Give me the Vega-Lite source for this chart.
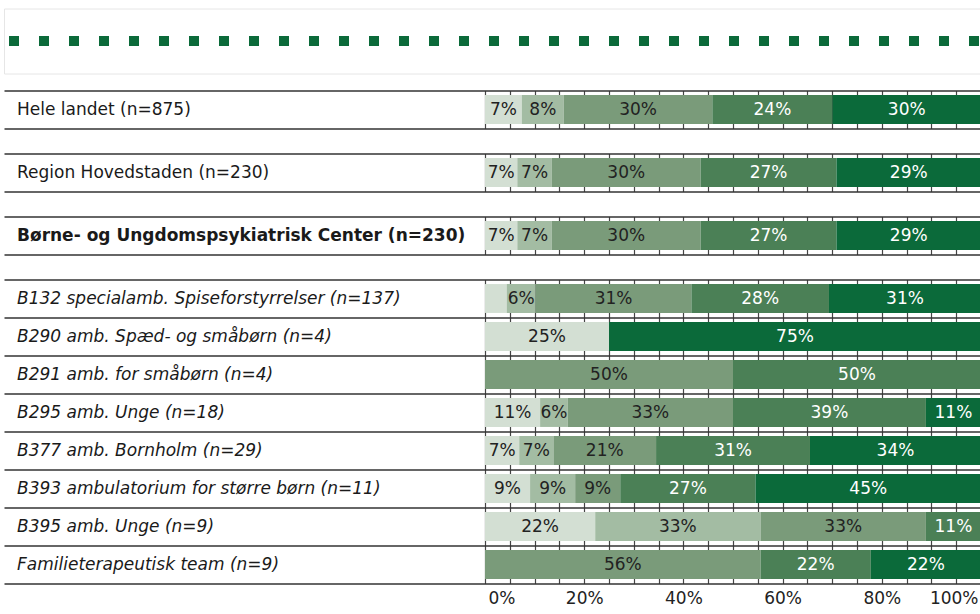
{
  "$schema": "https://vega.github.io/schema/vega-lite/v6.json",
  "padding": {"left": -2, "top": 7.5, "right": -5, "bottom": 0},
  "config": {
    "font": "DejaVu Sans",
    "view": {"stroke": null},
    "axisX": {"grid": true, "gridColor": "#444444", "gridWidth": 1.2, "ticks": false, "domain": false, "values": [0, 0.2, 0.4, 0.6, 0.8, 1], "title": null, "format": ".0%", "labelFontSize": 17, "labelColor": "#222222", "labelPadding": 7, "labelFlush": true, "labelFlushOffset": -3},
    "axisY": {"title": null, "offset": -977, "domain": false, "ticks": true, "tickSize": 977, "tickColor": "#333333", "tickWidth": 1.5, "bandPosition": 1, "tickExtra": true, "grid": false, "labelAlign": "left", "labelPadding": -12.5, "labelFontSize": 17, "labelColor": "#1a1a1a", "labelLimit": 0}
  },
  "datasets": {
    "rows": [
      {"level": "land", "row": "Hele landet (n=875)", "cat": "c1", "value": 0.0743},
      {"level": "land", "row": "Hele landet (n=875)", "cat": "c2", "value": 0.0846},
      {"level": "land", "row": "Hele landet (n=875)", "cat": "c3", "value": 0.2994},
      {"level": "land", "row": "Hele landet (n=875)", "cat": "c4", "value": 0.2423},
      {"level": "land", "row": "Hele landet (n=875)", "cat": "c5", "value": 0.2994},
      {"level": "region", "row": "Region Hovedstaden (n=230)", "cat": "c1", "value": 0.0652},
      {"level": "region", "row": "Region Hovedstaden (n=230)", "cat": "c2", "value": 0.0696},
      {"level": "region", "row": "Region Hovedstaden (n=230)", "cat": "c3", "value": 0.3},
      {"level": "region", "row": "Region Hovedstaden (n=230)", "cat": "c4", "value": 0.2739},
      {"level": "region", "row": "Region Hovedstaden (n=230)", "cat": "c5", "value": 0.2913},
      {"level": "center", "row": "Børne- og Ungdomspsykiatrisk Center (n=230)", "cat": "c1", "value": 0.0652},
      {"level": "center", "row": "Børne- og Ungdomspsykiatrisk Center (n=230)", "cat": "c2", "value": 0.0696},
      {"level": "center", "row": "Børne- og Ungdomspsykiatrisk Center (n=230)", "cat": "c3", "value": 0.3},
      {"level": "center", "row": "Børne- og Ungdomspsykiatrisk Center (n=230)", "cat": "c4", "value": 0.2739},
      {"level": "center", "row": "Børne- og Ungdomspsykiatrisk Center (n=230)", "cat": "c5", "value": 0.2913},
      {"level": "afsnit", "row": "B132 specialamb. Spiseforstyrrelser (n=137)", "cat": "c1", "value": 0.0438},
      {"level": "afsnit", "row": "B132 specialamb. Spiseforstyrrelser (n=137)", "cat": "c2", "value": 0.0584},
      {"level": "afsnit", "row": "B132 specialamb. Spiseforstyrrelser (n=137)", "cat": "c3", "value": 0.3139},
      {"level": "afsnit", "row": "B132 specialamb. Spiseforstyrrelser (n=137)", "cat": "c4", "value": 0.2774},
      {"level": "afsnit", "row": "B132 specialamb. Spiseforstyrrelser (n=137)", "cat": "c5", "value": 0.3065},
      {"level": "afsnit", "row": "B290 amb. Spæd- og småbørn (n=4)", "cat": "c1", "value": 0.25},
      {"level": "afsnit", "row": "B290 amb. Spæd- og småbørn (n=4)", "cat": "c5", "value": 0.75},
      {"level": "afsnit", "row": "B291 amb. for småbørn (n=4)", "cat": "c3", "value": 0.5},
      {"level": "afsnit", "row": "B291 amb. for småbørn (n=4)", "cat": "c4", "value": 0.5},
      {"level": "afsnit", "row": "B295 amb. Unge (n=18)", "cat": "c1", "value": 0.1111},
      {"level": "afsnit", "row": "B295 amb. Unge (n=18)", "cat": "c2", "value": 0.0556},
      {"level": "afsnit", "row": "B295 amb. Unge (n=18)", "cat": "c3", "value": 0.3333},
      {"level": "afsnit", "row": "B295 amb. Unge (n=18)", "cat": "c4", "value": 0.3889},
      {"level": "afsnit", "row": "B295 amb. Unge (n=18)", "cat": "c5", "value": 0.1111},
      {"level": "afsnit", "row": "B377 amb. Bornholm (n=29)", "cat": "c1", "value": 0.069},
      {"level": "afsnit", "row": "B377 amb. Bornholm (n=29)", "cat": "c2", "value": 0.069},
      {"level": "afsnit", "row": "B377 amb. Bornholm (n=29)", "cat": "c3", "value": 0.2069},
      {"level": "afsnit", "row": "B377 amb. Bornholm (n=29)", "cat": "c4", "value": 0.3103},
      {"level": "afsnit", "row": "B377 amb. Bornholm (n=29)", "cat": "c5", "value": 0.3448},
      {"level": "afsnit", "row": "B393 ambulatorium for større børn (n=11)", "cat": "c1", "value": 0.0909},
      {"level": "afsnit", "row": "B393 ambulatorium for større børn (n=11)", "cat": "c2", "value": 0.0909},
      {"level": "afsnit", "row": "B393 ambulatorium for større børn (n=11)", "cat": "c3", "value": 0.0909},
      {"level": "afsnit", "row": "B393 ambulatorium for større børn (n=11)", "cat": "c4", "value": 0.2727},
      {"level": "afsnit", "row": "B393 ambulatorium for større børn (n=11)", "cat": "c5", "value": 0.4545},
      {"level": "afsnit", "row": "B395 amb. Unge (n=9)", "cat": "c1", "value": 0.2222},
      {"level": "afsnit", "row": "B395 amb. Unge (n=9)", "cat": "c2", "value": 0.3333},
      {"level": "afsnit", "row": "B395 amb. Unge (n=9)", "cat": "c3", "value": 0.3334},
      {"level": "afsnit", "row": "B395 amb. Unge (n=9)", "cat": "c4", "value": 0.1111},
      {"level": "afsnit", "row": "Familieterapeutisk team (n=9)", "cat": "c3", "value": 0.5556},
      {"level": "afsnit", "row": "Familieterapeutisk team (n=9)", "cat": "c4", "value": 0.2222},
      {"level": "afsnit", "row": "Familieterapeutisk team (n=9)", "cat": "c5", "value": 0.2222}
    ]
  },
  "spacing": 17,
  "bounds": "flush",
  "vconcat": [
    {
      "width": 977,
      "height": 65,
      "view": {"stroke": "#e6e6e6", "strokeWidth": 1},
      "data": {"values": [{"item": "legend"}]},
      "mark": {"type": "rule", "strokeDash": [10, 20], "strokeDashOffset": -2, "strokeWidth": 10, "strokeCap": "butt", "color": "#0b6a3a"},
      "encoding": {"y": {"field": "item", "type": "nominal", "axis": null}}
    },
    {
      "spacing": 25,
      "bounds": "flush",
      "vconcat": [
        {
          "width": 977, "height": 38,
          "data": {"name": "rows"},
          "transform": [{"filter": "datum.level == 'land'"}],
          "encoding": {
            "y": {"field": "row", "type": "nominal", "sort": null, "scale": {"paddingInner": 0, "paddingOuter": 0}, "axis": {}},
            "x": {"field": "value", "type": "quantitative", "stack": "zero", "scale": {"domain": [0, 1], "range": [481, 977], "nice": false}, "axis": {"labels": false}},
            "detail": {"field": "cat"},
            "order": {"field": "cat"}
          },
          "layer": [
            {"mark": {"type": "bar", "height": {"band": 0.76}}, "encoding": {"color": {"field": "cat", "type": "nominal", "scale": {"domain": ["c1", "c2", "c3", "c4", "c5"], "range": ["#d3dfd3", "#a3bca3", "#7a9b7a", "#4b8056", "#0b6a3a"]}, "legend": null}}},
            {"mark": {"type": "text", "fontSize": 17, "baseline": "middle", "align": "center"},
              "encoding": {
                "x": {"field": "value", "type": "quantitative", "stack": "zero", "bandPosition": 0.5},
                "text": {"field": "value", "format": ".0%"},
                "color": {"condition": {"test": "datum.cat == 'c4' || datum.cat == 'c5'", "value": "#ffffff"}, "value": "#222222"},
                "opacity": {"condition": {"test": "datum.value < 0.05", "value": 0}, "value": 1}
              }}
          ]
        },
        {
          "width": 977, "height": 38,
          "data": {"name": "rows"},
          "transform": [{"filter": "datum.level == 'region'"}],
          "encoding": {
            "y": {"field": "row", "type": "nominal", "sort": null, "scale": {"paddingInner": 0, "paddingOuter": 0}, "axis": {}},
            "x": {"field": "value", "type": "quantitative", "stack": "zero", "scale": {"domain": [0, 1], "range": [481, 977], "nice": false}, "axis": {"labels": false}},
            "detail": {"field": "cat"},
            "order": {"field": "cat"}
          },
          "layer": [
            {"mark": {"type": "bar", "height": {"band": 0.76}}, "encoding": {"color": {"field": "cat", "type": "nominal", "scale": {"domain": ["c1", "c2", "c3", "c4", "c5"], "range": ["#d3dfd3", "#a3bca3", "#7a9b7a", "#4b8056", "#0b6a3a"]}, "legend": null}}},
            {"mark": {"type": "text", "fontSize": 17, "baseline": "middle", "align": "center"},
              "encoding": {
                "x": {"field": "value", "type": "quantitative", "stack": "zero", "bandPosition": 0.5},
                "text": {"field": "value", "format": ".0%"},
                "color": {"condition": {"test": "datum.cat == 'c4' || datum.cat == 'c5'", "value": "#ffffff"}, "value": "#222222"},
                "opacity": {"condition": {"test": "datum.value < 0.05", "value": 0}, "value": 1}
              }}
          ]
        },
        {
          "width": 977, "height": 38,
          "data": {"name": "rows"},
          "transform": [{"filter": "datum.level == 'center'"}],
          "encoding": {
            "y": {"field": "row", "type": "nominal", "sort": null, "scale": {"paddingInner": 0, "paddingOuter": 0}, "axis": {"labelFontWeight": "bold"}},
            "x": {"field": "value", "type": "quantitative", "stack": "zero", "scale": {"domain": [0, 1], "range": [481, 977], "nice": false}, "axis": {"labels": false}},
            "detail": {"field": "cat"},
            "order": {"field": "cat"}
          },
          "layer": [
            {"mark": {"type": "bar", "height": {"band": 0.76}}, "encoding": {"color": {"field": "cat", "type": "nominal", "scale": {"domain": ["c1", "c2", "c3", "c4", "c5"], "range": ["#d3dfd3", "#a3bca3", "#7a9b7a", "#4b8056", "#0b6a3a"]}, "legend": null}}},
            {"mark": {"type": "text", "fontSize": 17, "baseline": "middle", "align": "center"},
              "encoding": {
                "x": {"field": "value", "type": "quantitative", "stack": "zero", "bandPosition": 0.5},
                "text": {"field": "value", "format": ".0%"},
                "color": {"condition": {"test": "datum.cat == 'c4' || datum.cat == 'c5'", "value": "#ffffff"}, "value": "#222222"},
                "opacity": {"condition": {"test": "datum.value < 0.05", "value": 0}, "value": 1}
              }}
          ]
        },
        {
          "width": 977, "height": 304,
          "data": {"name": "rows"},
          "transform": [{"filter": "datum.level == 'afsnit'"}],
          "encoding": {
            "y": {"field": "row", "type": "nominal", "sort": null, "scale": {"paddingInner": 0, "paddingOuter": 0}, "axis": {"labelFontStyle": "italic"}},
            "x": {"field": "value", "type": "quantitative", "stack": "zero", "scale": {"domain": [0, 1], "range": [481, 977], "nice": false}, "axis": {"labels": true}},
            "detail": {"field": "cat"},
            "order": {"field": "cat"}
          },
          "layer": [
            {"mark": {"type": "bar", "height": {"band": 0.76}}, "encoding": {"color": {"field": "cat", "type": "nominal", "scale": {"domain": ["c1", "c2", "c3", "c4", "c5"], "range": ["#d3dfd3", "#a3bca3", "#7a9b7a", "#4b8056", "#0b6a3a"]}, "legend": null}}},
            {"mark": {"type": "text", "fontSize": 17, "baseline": "middle", "align": "center"},
              "encoding": {
                "x": {"field": "value", "type": "quantitative", "stack": "zero", "bandPosition": 0.5},
                "text": {"field": "value", "format": ".0%"},
                "color": {"condition": {"test": "datum.cat == 'c4' || datum.cat == 'c5'", "value": "#ffffff"}, "value": "#222222"},
                "opacity": {"condition": {"test": "datum.value < 0.05", "value": 0}, "value": 1}
              }}
          ]
        }
      ]
    }
  ]
}
